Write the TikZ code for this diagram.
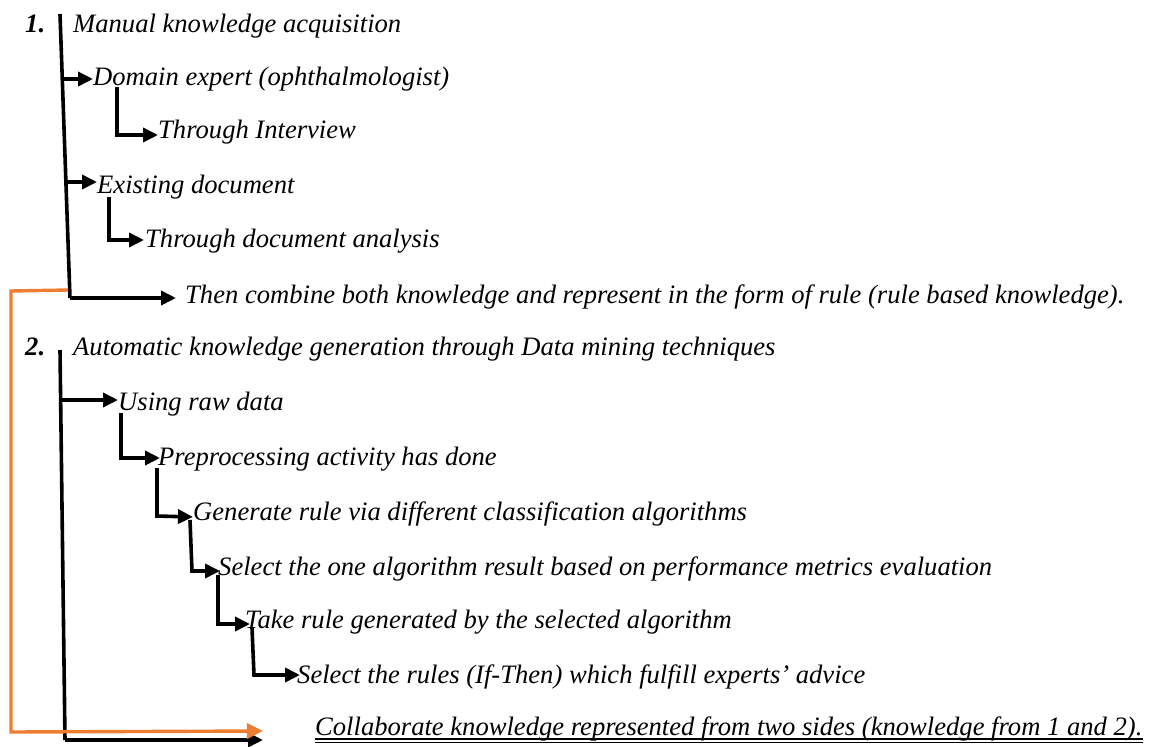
\documentclass[tikz,border=0pt]{standalone}
\usepackage{fontspec}
\setmainfont{Liberation Serif}
\usetikzlibrary{arrows.meta,calc}
\definecolor{orangeline}{RGB}{237,125,49}
\begin{document}
\begin{tikzpicture}[x=1pt,y=-1pt,
  txt/.style={anchor=base west,inner sep=0pt,font=\fontsize{26.6}{30}\selectfont\itshape},
  num/.style={anchor=base west,inner sep=0pt,font=\fontsize{26.6}{30}\selectfont\bfseries\itshape},
  conn/.style={line width=3.6pt,black},
  arr/.style={conn,-{Triangle[length=15pt,width=14pt]}},
  oarr/.style={line width=3.4pt,orangeline,-{Triangle[length=16pt,width=15pt]}}]
\useasboundingbox (0,0) rectangle (1152,747);
% section 1
\node[num] (n1) at (25,32) {1.};
\node[txt] (manual) at (73,32) {Manual knowledge acquisition};
\node[txt] (domain) at (93,85) {Domain expert (ophthalmologist)};
\node[txt] (interview) at (158,138) {Through Interview};
\node[txt] (existing) at (97,193) {Existing document};
\node[txt] (docanal) at (145,247) {Through document analysis};
\node[txt] (combine) at (185,303) {Then combine both knowledge and represent in the form of rule (rule based knowledge).};
% section 2
\node[num] (n2) at (25,355) {2.};
\node[txt] (auto) at (73,355) {Automatic knowledge generation through Data mining techniques};
\node[txt] (raw) at (118,410) {Using raw data};
\node[txt] (prep) at (158,465) {Preprocessing activity has done};
\node[txt] (gen) at (193,520) {Generate rule via different classification algorithms};
\node[txt] (selone) at (218,575) {Select the one algorithm result based on performance metrics evaluation};
\node[txt] (take) at (245,628) {Take rule generated by the selected algorithm};
\node[txt] (selrules) at (297,683) {Select the rules (If-Then) which fulfill experts’ advice};
\node[txt] (collab) at (315,735) {Collaborate knowledge represented from two sides (knowledge from 1 and 2).};
\draw[line width=1.2pt] ($(collab.base west)+(0,4)$) -- ($(collab.base east)+(0,4)$);
\draw[line width=1.2pt] ($(collab.base west)+(0,7.5)$) -- ($(collab.base east)+(0,7.5)$);
% coordinates section 1
\coordinate (l1top) at (60,14);
\coordinate (l1bot) at (70,298);
\coordinate (b1a) at (62.3,79);   \coordinate (t1a) at (93,79);
\coordinate (b1b) at (64.7,182);  \coordinate (t1b) at (97,182);
\coordinate (t1c) at (176,298);
\coordinate (s1top) at (117,87);  \coordinate (s1bot) at (117,135); \coordinate (s1tip) at (158,135);
\coordinate (s2top) at (109,197); \coordinate (s2bot) at (109,240); \coordinate (s2tip) at (144,240);
% section 1 connectors
\draw[conn] (l1top) -- (l1bot);
\draw[arr] (l1bot) -- (t1c);
\draw[arr] (b1a) -- (t1a);
\draw[arr] (b1b) -- (t1b);
\draw[arr] (s1top) -- (s1bot) -- (s1tip);
\draw[arr] (s2top) -- (s2bot) -- (s2tip);
% section 2 coordinates
\coordinate (l2top) at (60,350);
\coordinate (l2bot) at (65,740);
\coordinate (t2end) at (263,740);
\coordinate (b2a) at (60.6,400); \coordinate (t2a) at (118,400);
\coordinate (c1top) at (121,413); \coordinate (c1bot) at (121,458); \coordinate (c1tip) at (160,458);
\coordinate (c2top) at (157,468); \coordinate (c2bot) at (157,516); \coordinate (c2tip) at (193,517);
\coordinate (c3top) at (190,520); \coordinate (c3bot) at (192,571); \coordinate (c3tip) at (220,571);
\coordinate (c4top) at (218,575); \coordinate (c4bot) at (218,624); \coordinate (c4tip) at (250,624);
\coordinate (c5top) at (252,628); \coordinate (c5bot) at (254,675); \coordinate (c5tip) at (300,675);
\draw[conn] (l2top) -- (l2bot);
\draw[arr] (l2bot) -- (t2end);
\draw[arr] (b2a) -- (t2a);
\draw[arr] (c1top) -- (c1bot) -- (c1tip);
\draw[arr] (c2top) -- (c2bot) -- (c2tip);
\draw[arr] (c3top) -- (c3bot) -- (c3tip);
\draw[arr] (c4top) -- (c4bot) -- (c4tip);
\draw[arr] (c5top) -- (c5bot) -- (c5tip);
% orange connector
\coordinate (o1) at (68,290);
\coordinate (o2) at (11,291);
\coordinate (o3) at (11,732);
\coordinate (o4) at (263,731);
\draw[oarr] (o1) -- (o2) -- (o3) -- (o4);
\end{tikzpicture}
\end{document}
